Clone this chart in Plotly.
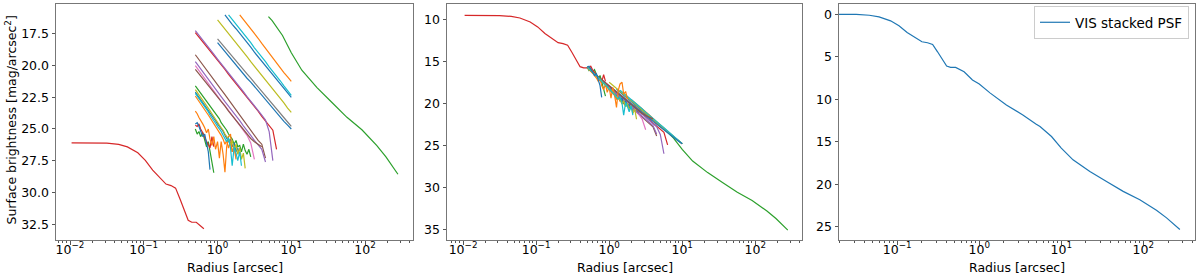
import plotly.graph_objects as go

# ---------------- data ----------------
# stacked VIS PSF profile (panel 3), radius [arcsec] and surface brightness [mag]
psf_r = [0.0105, 0.0195, 0.0316, 0.0457, 0.060, 0.083, 0.105, 0.132, 0.17, 0.20, 0.234,
         0.27, 0.31, 0.355, 0.40, 0.447, 0.515, 0.653, 0.826, 1.0, 1.35, 2.14, 3.4, 4.9,
         5.5, 7.6, 10.0, 13.9, 22.3, 35.6, 56.8, 90.6, 144.5, 192.0, 279.0]
psf_mag = [0.0, 0.0, 0.02, 0.12, 0.31, 0.78, 1.37, 2.15, 2.85, 3.24, 3.36,
           3.56, 4.42, 5.39, 6.10, 6.25, 6.25, 6.76, 7.74, 8.21, 9.25, 10.67, 11.84, 12.9,
           13.21, 14.38, 15.74, 17.12, 18.49, 19.66, 20.83, 21.81, 23.06, 23.95, 25.32]

# offsets of the core (red) and wings (green) profiles in panels 1 and 2
core_offset_p1, wing_offset_p1 = 26.1, 3.25
core_offset_p2, wing_offset_p2 = 9.55, 9.75
core_rmax_p1, core_rmax_p2, wing_rmin = 0.66, 0.52, 4.9

# radius grids of the individual star profiles
R = [0.50, 0.56, 0.63, 0.71, 0.79, 0.89, 1.00, 1.12, 1.26, 1.41, 1.58, 1.78, 2.00, 2.24,
     2.51, 2.82, 3.16, 3.55, 3.98, 4.47, 5.01, 5.62, 6.31, 7.08, 7.94, 8.91, 10.0]
RF = [0.50, 0.53, 0.56, 0.59, 0.63, 0.67, 0.71, 0.75, 0.79, 0.84, 0.89, 0.94, 1.00, 1.06,
      1.12, 1.19, 1.26, 1.33, 1.41, 1.50, 1.58, 1.68, 1.78, 1.88, 2.00, 2.11, 2.24, 2.37,
      2.51, 2.66, 2.82, 2.99, 3.16]

# star profiles (panel 1 values)
orange_a = [16.0, 16.35, 16.75, 17.1, 17.5, 17.85, 18.25, 18.65, 19.0, 19.4, 19.75, 20.15, 20.55, 20.9, 21.25]
cyan_a = [16.0, 16.35, 16.75, 17.1, 17.5, 17.85, 18.2, 18.6, 18.95, 19.35, 19.7, 20.1, 20.45, 20.85, 21.2, 21.6, 21.95, 22.35]
blue_a = [16.0, 16.4, 16.75, 17.1, 17.45, 17.85, 18.2, 18.55, 18.95, 19.3, 19.65, 20.0, 20.4, 20.75, 21.1, 21.45, 21.8, 22.15, 22.5]
olive_a = [16.4, 16.75, 17.1, 17.5, 17.85, 18.2, 18.6, 18.95, 19.3, 19.7, 20.05, 20.4, 20.8, 21.15, 21.5, 21.9, 22.25, 22.6, 22.95, 23.35, 23.7]
gray_a = [17.9, 18.25, 18.6, 18.95, 19.3, 19.6, 19.95, 20.3, 20.65, 21.0, 21.35, 21.7, 22.05, 22.4, 22.75, 23.1, 23.4, 23.75, 24.1, 24.45, 24.8]
blue_b = [18.2, 18.55, 18.9, 19.25, 19.6, 19.95, 20.3, 20.65, 21.0, 21.3, 21.65, 22.0, 22.35, 22.7, 23.05, 23.4, 23.75, 24.05, 24.4, 24.7, 25.0]
purple_a = [17.25, 17.6, 18.0, 18.35, 18.75, 19.1, 19.5, 19.85, 20.2, 20.6, 20.95, 21.3, 21.7, 22.05, 22.45, 22.8, 23.15, 23.55, 23.9, 24.3, 25.2, 27.5]
red_a = [17.4, 17.75, 18.1, 18.5, 18.85, 19.2, 19.6, 19.95, 20.3, 20.7, 21.05, 21.4, 21.8, 22.15, 22.5, 22.9, 23.25, 23.6, 24.0, 24.35, 24.7, 25.1, 26.6]
brown_a = [19.15, 19.55, 19.95, 20.35, 20.75, 21.1, 21.5, 21.9, 22.3, 22.7, 23.1, 23.5, 23.9, 24.3, 24.7, 25.1, 25.5, 25.9, 26.2, 27.3]
purple_b = [19.7, 20.1, 20.5, 20.9, 21.25, 21.65, 22.05, 22.45, 22.85, 23.2, 23.6, 24.0, 24.35, 24.75, 25.1, 25.5, 25.9, 26.3, 26.6, 27.6]
pink_a = [20.0, 20.4, 20.8, 21.2, 21.6, 22.0, 22.4, 22.8, 23.15, 23.55, 23.95, 24.35, 24.75, 25.1, 25.5, 26.1, 27.4]
brown_b = [20.3, 20.65, 21.0, 21.4, 21.75, 22.1, 22.5, 22.85, 23.2, 23.6, 23.95, 24.3, 24.7, 25.05, 25.4, 25.75, 26.0, 26.2, 26.4]
green_a = [21.6, 21.8, 22.0, 22.2, 22.4, 22.6, 22.8, 23.0, 23.2, 23.4, 23.6, 23.8, 24.0, 24.2, 24.5, 24.7,
           24.95, 25.1, 25.4, 25.6, 25.8, 26.2, 25.9, 26.4, 26.3, 26.8, 26.2, 26.7, 27.0, 26.6, 27.2]
olive_b = [21.9, 22.1, 22.3, 22.5, 22.7, 22.9, 23.1, 23.3, 23.55, 23.8, 24.0, 24.2, 24.45, 24.7, 24.9, 25.1,
           25.4, 25.6, 25.8, 26.3, 25.9, 26.6, 26.2, 27.0, 26.5, 27.4, 26.9, 28.1]
blue_c = [22.1, 22.3, 22.5, 22.7, 22.9, 23.1, 23.3, 23.5, 23.7, 23.9, 24.1, 24.35, 24.6, 24.8, 25.0, 25.2,
          25.5, 25.7, 26.0, 25.8, 26.4, 26.1, 26.8, 26.5, 27.1]
cyan_b = [22.2, 22.4, 22.6, 22.8, 23.0, 23.2, 23.45, 23.65, 23.9, 24.1, 24.3, 24.55, 24.8, 25.0, 25.2, 25.5,
          25.8, 26.0, 25.7, 26.5, 27.9, 26.4, 26.9, 27.5, 26.8, 27.9]
orange_b = [22.4, 22.6, 22.8, 23.0, 23.25, 23.5, 23.7, 23.9, 24.1, 24.35, 24.6, 24.8, 25.0, 25.3, 25.5, 25.8,
            26.2, 25.9, 26.5, 26.0, 26.8, 26.4, 27.1]
orange_c = [23.6, 23.8, 24.1, 24.3, 24.6, 24.9, 25.3, 25.0, 25.8, 26.3, 25.6, 26.6, 26.0, 27.3, 26.0, 27.0,
            28.4, 26.4, 25.6, 25.4, 26.8, 26.5, 27.4]
blue_d = [24.6, 24.5, 24.8, 25.1, 25.6, 25.4, 26.2, 26.8, 28.2]
red_b = [24.7, 24.8, 24.6, 25.0, 25.3, 25.7, 26.0, 26.2, 26.5, 25.6, 26.4]
green_b = [25.0, 25.4, 25.2, 25.6, 25.3, 25.9, 26.4, 26.0, 26.8, 27.5, 28.45]

# (values, grid name, start index, colour, shift applied in panel 2)
star_table = [
    (blue_a, "R", 8, "#1f77b4", 2.3), (orange_a, "R", 12, "#ff7f0e", 3.55),
    (green_a, "RF", 0, "#2ca02c", -5.9), (red_a, "R", 0, "#d62728", -1.65),
    (purple_a, "R", 0, "#9467bd", -1.5), (brown_a, "R", 0, "#8c564b", -3.4),
    (pink_a, "R", 0, "#e377c2", -4.25), (gray_a, "R", 6, "#7f7f7f", 0.0),
    (olive_a, "R", 6, "#bcbd22", 1.1), (cyan_a, "R", 9, "#17becf", 2.45),
    (blue_b, "R", 6, "#1f77b4", -0.2), (orange_b, "RF", 0, "#ff7f0e", -6.7),
    (green_b, "RF", 0, "#2ca02c", -9.3), (red_b, "RF", 0, "#d62728", -9.0),
    (purple_b, "R", 0, "#9467bd", -3.95), (brown_b, "R", 0, "#8c564b", -4.55),
    (blue_c, "RF", 0, "#1f77b4", -6.4), (orange_c, "RF", 0, "#ff7f0e", -7.9),
    (olive_b, "RF", 0, "#bcbd22", -6.2), (cyan_b, "RF", 0, "#17becf", -6.5),
    (blue_d, "RF", 0, "#1f77b4", -8.9),
]

x_title = "Radius [arcsec]"
y_title = "Surface brightness [mag/arcsec<sup>2</sup>]"
legend_label = "VIS stacked PSF"

# ---------------- figure ----------------
FONT = "DejaVu Sans"
FS = 12.5
LW = 1.2
fig = go.Figure()

def add_line(x, y, color, xa, ya, name=None, legend=False):
    fig.add_trace(go.Scatter(x=x, y=y, mode="lines", line=dict(color=color, width=LW),
                             xaxis=xa, yaxis=ya, name=name, showlegend=legend,
                             hoverinfo="skip"))

core_p1 = [(r, m + core_offset_p1) for r, m in zip(psf_r, psf_mag) if r <= core_rmax_p1]
core_p2 = [(r, m + core_offset_p2) for r, m in zip(psf_r, psf_mag) if r <= core_rmax_p2]
wing_p1 = [(r, m + wing_offset_p1) for r, m in zip(psf_r, psf_mag) if r >= wing_rmin]
wing_p2 = [(r, m + wing_offset_p2) for r, m in zip(psf_r, psf_mag) if r >= wing_rmin]

grids = {"R": R, "RF": RF}

# panel 1
for vals, g, s, col, sh in star_table:
    xs = grids[g][s:s + len(vals)]
    add_line(xs, vals, col, "x", "y")
add_line([p[0] for p in core_p1], [p[1] for p in core_p1], "#d62728", "x", "y")
add_line([p[0] for p in wing_p1], [p[1] for p in wing_p1], "#2ca02c", "x", "y")

# panel 2
add_line([p[0] for p in core_p2], [p[1] for p in core_p2], "#d62728", "x2", "y2")
add_line([p[0] for p in wing_p2], [p[1] for p in wing_p2], "#2ca02c", "x2", "y2")
for vals, g, s, col, sh in star_table:
    xs = grids[g][s:s + len(vals)]
    add_line(xs, [v + sh for v in vals], col, "x2", "y2")

# panel 3
add_line(psf_r, psf_mag, "#1f77b4", "x3", "y3", name=legend_label, legend=True)

W, H = 1200, 277
doms = [(56, 413), (447, 802), (839, 1195)]
ytop, ybot = 4, 240
ydom = [1 - ybot / H, 1 - ytop / H]

minor_vals = [k * 10 ** d for d in range(-3, 4) for k in range(2, 10)]
axcol = "#555555"

def sup(e):
    return "10<sup>" + (("\u2212" + str(-e)) if e < 0 else str(e)) + "</sup>"

def xaxis_cfg(dom, rng, majors):
    return dict(domain=[dom[0] / W, dom[1] / W], type="log", range=rng,
                showline=True, mirror=True, linecolor="#777777", linewidth=1,
                ticks="outside", ticklen=3.5, tickwidth=0.8, tickcolor=axcol,
                tickvals=[10 ** e for e in majors], ticktext=[sup(e) for e in majors],
                ticklabelstandoff=-6,
                minor=dict(tickvals=minor_vals, ticks="outside", ticklen=2,
                           tickwidth=0.6, tickcolor=axcol, showgrid=False),
                showgrid=False, zeroline=False,
                tickfont=dict(size=FS, color="black", family=FONT))

def yaxis_cfg(anchor, rng, tv, tt):
    return dict(domain=ydom, anchor=anchor, range=rng, showline=True, mirror=True,
                linecolor="#777777", linewidth=1, ticks="outside", ticklen=3.5,
                tickwidth=0.8, tickcolor=axcol, tickvals=tv, ticktext=tt,
                showgrid=False, zeroline=False,
                tickfont=dict(size=FS, color="black", family=FONT))

y1_ticks = [17.5, 20.0, 22.5, 25.0, 27.5, 30.0, 32.5]
y2_ticks = [10, 15, 20, 25, 30, 35]
y3_ticks = [0, 5, 10, 15, 20, 25]

annotations = []
for d in doms:
    annotations.append(dict(text=x_title, xref="paper", yref="paper",
                            x=(d[0] + d[1]) / 2 / W, y=1 - 267.5 / H,
                            xanchor="center", yanchor="middle", showarrow=False,
                            font=dict(size=FS, color="black", family=FONT)))
annotations.append(dict(text=y_title, xref="paper", yref="paper",
                        x=10.5 / W, y=1 - 120 / H, textangle=-90,
                        xanchor="center", yanchor="middle", showarrow=False,
                        font=dict(size=FS, color="black", family=FONT)))

fig.update_layout(
    width=W, height=H, margin=dict(l=0, r=0, t=0, b=0),
    paper_bgcolor="white", plot_bgcolor="white",
    font=dict(family=FONT, size=FS, color="black"),
    xaxis=dict(xaxis_cfg(doms[0], [-2.19, 2.65], [-2, -1, 0, 1, 2]), anchor="y"),
    xaxis2=dict(xaxis_cfg(doms[1], [-2.22, 2.64], [-2, -1, 0, 1, 2]), anchor="y2"),
    xaxis3=dict(xaxis_cfg(doms[2], [-1.71, 2.63], [-1, 0, 1, 2]), anchor="y3"),
    yaxis=yaxis_cfg("x", [33.75, 15.15], y1_ticks, ["%.1f" % v for v in y1_ticks]),
    yaxis2=yaxis_cfg("x2", [36.25, 8.2], y2_ticks, [str(v) for v in y2_ticks]),
    yaxis3=yaxis_cfg("x3", [26.55, -1.2], y3_ticks, [str(v) for v in y3_ticks]),
    legend=dict(x=1189 / W, y=1 - 6 / H, xanchor="right", yanchor="top",
                bgcolor="white", bordercolor="#cccccc", borderwidth=1,
                font=dict(size=13.5, color="black", family=FONT), itemwidth=30),
    annotations=annotations,
    showlegend=True,
)

fig.write_html("out.html", config={"displayModeBar": False},
               post_script="document.body.style.margin='0';document.body.style.padding='0';")
